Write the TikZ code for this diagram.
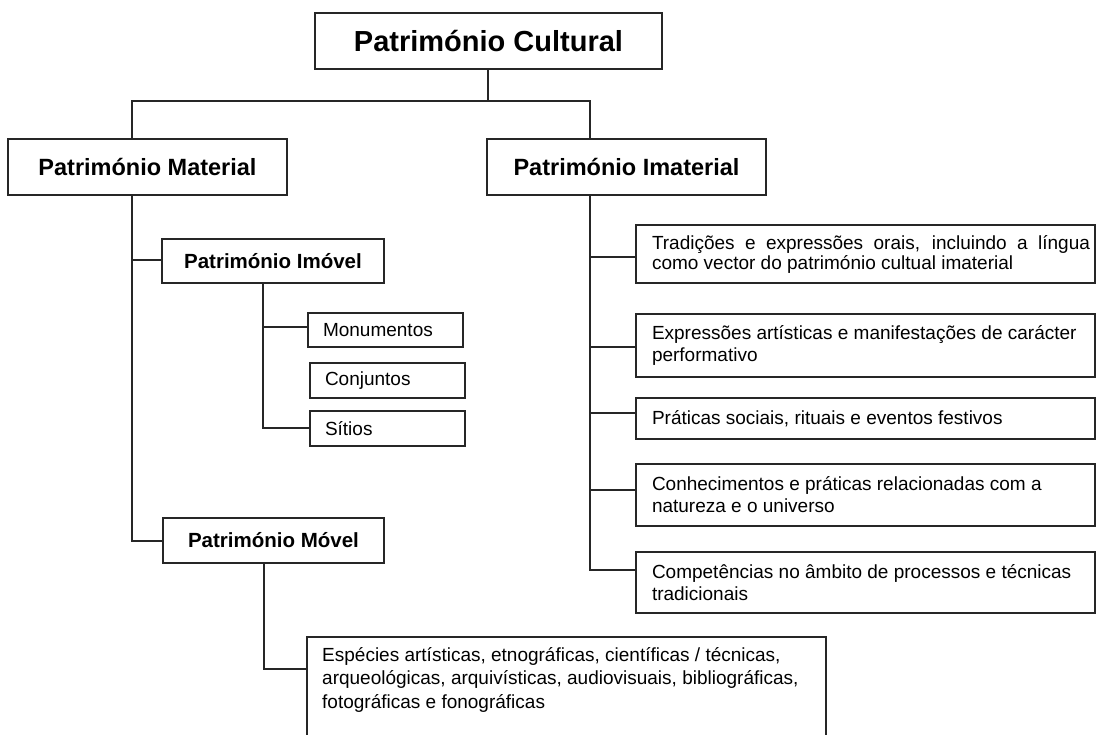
\documentclass[tikz,border=0pt]{standalone}
\usepackage{fontspec}
\setmainfont{Liberation Sans}
\tikzset{
  box/.style={draw=black!85, line width=1.2pt, inner sep=0pt, outer sep=0pt},
  conn/.style={draw=black!85, line width=1.2pt},
  bigtitle/.style={box, font=\fontsize{29}{34}\selectfont\bfseries},
  midtitle/.style={box, font=\fontsize{23.5}{28}\selectfont\bfseries},
  subtitle/.style={box, font=\fontsize{20.5}{24}\selectfont\bfseries},
  smallbox/.style={box, font=\fontsize{19}{22}\selectfont, align=flush left, text width=125pt, inner xsep=15pt, minimum width=155pt},
  rightbox/.style={box, font=\fontsize{19}{22}\selectfont, align=flush left, text width=427pt, inner xsep=16pt, minimum width=459pt},
}
\begin{document}
\begin{tikzpicture}[x=1pt,y=-1pt]
\clip (0,0) rectangle (1097,734);
\fill[white] (0,0) rectangle (1097,734);

% top level
\node[bigtitle, minimum width=347pt, minimum height=56pt] (cult) at (488.5,41) {Património Cultural};
\node[midtitle, minimum width=279pt, minimum height=56pt] (mat) at (147.5,167) {Património Material};
\node[midtitle, minimum width=279pt, minimum height=56pt] (imat) at (626.5,167) {Património Imaterial};

% material branch
\node[subtitle, minimum width=222pt, minimum height=44pt] (imov) at (273,261) {Património Imóvel};
\node[subtitle, minimum width=221pt, minimum height=45pt] (mov) at (273.5,540.5) {Património Móvel};
\node[smallbox, minimum height=34pt] (mon) at (385.5,330) {Monumentos};
\node[smallbox, minimum height=35pt] (conj) at (387.5,380.5) {Conjuntos};
\node[smallbox, minimum height=35pt] (sit) at (387.5,428.5) {Sítios};
\node[box, anchor=north west, minimum width=519pt, minimum height=130pt] (esp) at (307,637) {};
\node[anchor=north west, inner sep=0pt, align=flush left, font=\fontsize{19}{23.5}\selectfont] (esptext) at (322,643)
  {\rule{0pt}{18pt}Espécies artísticas, etnográficas, científicas / técnicas,\\
   arqueológicas, arquivísticas, audiovisuais, bibliográficas,\\
   fotográficas e fonográficas};

% imaterial branch
\node[rightbox, minimum height=58pt, font=\fontsize{19}{20}\selectfont] (b1) at (865.5,254)
  {\rlap{\makebox[438pt][s]{Tradições e expressões orais, incluindo a língua}}\\como vector do património cultual imaterial};
\node[rightbox, minimum height=63pt] (b2) at (865.5,345.5) {Expressões artísticas e manifestações de carácter\\performativo};
\node[rightbox, minimum height=41pt] (b3) at (865.5,418.5) {Práticas sociais, rituais e eventos festivos};
\node[rightbox, minimum height=62pt] (b4) at (865.5,495) {Conhecimentos e práticas relacionadas com a\\natureza e o universo};
\node[rightbox, minimum height=61pt] (b5) at (865.5,582.5) {Competências no âmbito de processos e técnicas\\tradicionais};

% junction coordinates
\coordinate (top) at (488,101);
\coordinate (topL) at (132,101);
\coordinate (topR) at (590,101);
\coordinate (m1) at (132,260);
\coordinate (m2) at (132,541);
\coordinate (i1) at (263,327);
\coordinate (i2) at (263,428);
\coordinate (v1) at (264,669);
\coordinate (r1) at (590,257);
\coordinate (r2) at (590,347);
\coordinate (r3) at (590,413);
\coordinate (r4) at (590,490);
\coordinate (r5) at (590,570);

% connectors
\draw[conn] (cult.south -| top) -- (top);
\draw[conn] (mat.north -| topL) -- (topL) -- (topR) -- (imat.north -| topR);

\draw[conn] (mat.south -| m1) -- (m2) -- (mov.west |- m2);
\draw[conn] (m1) -- (imov.west |- m1);

\draw[conn] (imov.south -| i1) -- (i2) -- (sit.west |- i2);
\draw[conn] (i1) -- (mon.west |- i1);

\draw[conn] (mov.south -| v1) -- (v1) -- (esp.west |- v1);

\draw[conn] (imat.south -| r1) -- (r5) -- (b5.west |- r5);
\draw[conn] (r1) -- (b1.west |- r1);
\draw[conn] (r2) -- (b2.west |- r2);
\draw[conn] (r3) -- (b3.west |- r3);
\draw[conn] (r4) -- (b4.west |- r4);
\end{tikzpicture}
\end{document}
